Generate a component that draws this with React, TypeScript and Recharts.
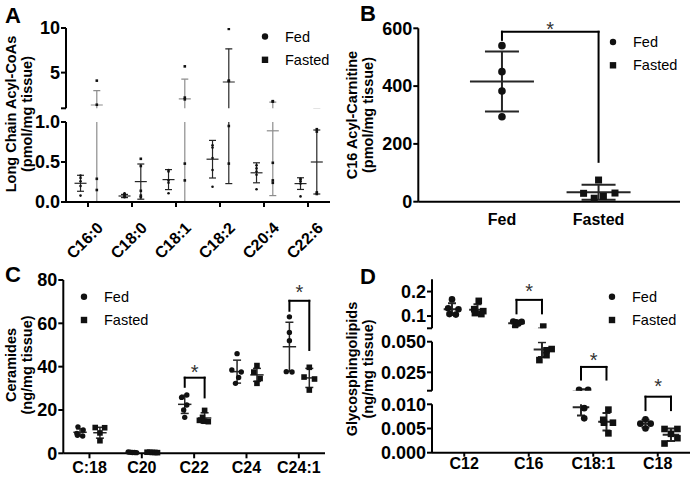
import React from 'react'
import { ScatterChart, Scatter, XAxis, YAxis, ErrorBar, ReferenceLine, ReferenceDot } from 'recharts'

// ---- A: long chain acyl-CoAs (pmol/mg tissue) ----
const acylCats = ['C16:0', 'C18:0', 'C18:1', 'C18:2', 'C20:4', 'C22:6']
const acylFed = [
    [0.33, 0.3, 0.26, 0.2, 0.08],
    [0.11, 0.1, 0.08, 0.07, 0.06],
    [0.4, 0.38, 0.27, 0.24, 0.11],
    [0.71, 0.68, 0.55, 0.4, 0.19],
    [0.46, 0.42, 0.38, 0.34, 0.16],
    [0.29, 0.28, 0.26, 0.23, 0.07],
]
const acylFasted = [
    [4.1, 1.4, 0.29, 0.15],
    [0.54, 0.45, 0.14, 0.08, 0.06],
    [5.7, 2.2, 2.0, 0.48, 0.27],
    [9.9, 4.1, 4.05, 0.95, 0.48],
    [1.8, 1.75, 0.49, 0.27, 0.24],
    [0.91, 0.88, 0.12, 0.1],
]
const acylFedMean = [0.234, 0.075, 0.28, 0.535, 0.365, 0.23]
const acylFedSD = [0.1, 0.02, 0.125, 0.235, 0.125, 0.073]
const acylFastedMean = [1.37, 0.255, 2.05, 3.95, 0.89, 0.5]
const acylFastedSD = [1.61, 0.22, 2.21, 3.72, 0.81, 0.4]

// ---- B: C16 acyl-carnitine (pmol/mg tissue) ----
const carnCats = ['Fed', 'Fasted']
const carnFed = [540, 450, 383, 294]
const carnFasted = [75, 30, 29, 18, 12]
const carnFastedJitter = [0, 0.17, -0.155, 0.05, -0.045]
const carnMean = [416, 32.8]
const carnSD = [104, 26]

// ---- C: ceramides (ng/mg tissue) ----
const cerCats = ['C:18', 'C20', 'C22', 'C24', 'C24:1']
const cerFed = [
    [12.2, 10.8, 9.2, 8.3, 8.0],
    [0.6, 0.5, 0.4, 0.4, 0.3],
    [26.9, 25.8, 22.3, 20.0, 16.6],
    [46, 38.5, 37.5, 35, 32.3],
    [63, 55.8, 52, 37.7, 37.5],
]
const cerFasted = [
    [11.9, 11.8, 9.4, 5.8],
    [0.5, 0.5, 0.4, 0.4, 0.3],
    [19.8, 16.6, 15.2, 14.8, 14.6],
    [40.5, 37.5, 34.5, 32.3],
    [39.7, 35.2, 34.3, 29.2],
]
const cerFedJitter = [
    [-0.04, 0.06, -0.06, -0.05, 0.05],
    [-0.08, -0.04, 0, 0.04, 0.08],
    [0.04, -0.06, 0.04, -0.02, 0],
    [0, -0.1, 0.08, 0.03, -0.03],
    [0, 0, 0, -0.06, 0.05],
]
const cerFastedJitter = [
    [-0.09, 0.09, 0, 0],
    [-0.1, -0.05, 0, 0.05, 0.1],
    [0, -0.04, -0.1, 0, 0.07],
    [0, -0.06, 0.06, 0],
    [0, -0.1, 0.1, 0],
]
const cerFedMean = [9.7, 0.45, 22.6, 37.7, 49.2]
const cerFedSD = [1.6, 0.1, 4.2, 5.3, 11.3]
const cerFastedMean = [9.5, 0.42, 16.3, 36.2, 34.8]
const cerFastedSD = [2.5, 0.08, 2.4, 3.0, 4.4]
const cerSig = [
    { cat: 3, top: 34.9, left: 30.7, right: 25.8, star: 39.2 },
    { cat: 5, top: 70.4, left: 65.8, right: 47.7, star: 76.2 },
]

// ---- D: glycosphingolipids (ng/mg tissue) ----
const gslCats = ['C12', 'C16', 'C18:1', 'C18']
const gslFed = [
    [0.168, 0.132, 0.128, 0.108, 0.106],
    [0.078, 0.077, 0.075, 0.07, 0.056],
    [0.0107, 0.0107, 0.0092, 0.0071],
    [0.0069, 0.006, 0.006, 0.005],
]
const gslFasted = [
    [0.162, 0.128, 0.12, 0.112, 0.108],
    [0.057, 0.044, 0.043, 0.039, 0.035],
    [0.0089, 0.0068, 0.0062, 0.0062, 0.004],
    [0.0049, 0.0049, 0.0039, 0.003, 0.0019],
]
const gslFedJitter = [
    [0, -0.06, 0.1, -0.04, 0.06],
    [-0.05, 0.08, 0, 0.03, -0.02],
    [-0.03, 0.11, 0.05, 0.05],
    [0, -0.08, 0.08, 0],
]
const gslFastedJitter = [
    [0.02, -0.05, 0.09, -0.04, 0.06],
    [0.02, 0.15, 0.07, 0.07, -0.04],
    [0.03, -0.05, 0.1, -0.04, 0.03],
    [-0.1, 0.1, 0, 0.1, -0.1],
]
const gslFedMean = [0.128, 0.071, 0.0094, 0.006]
const gslFedSD = [0.024, 0.009, 0.0017, 0.0008]
const gslFastedMean = [0.126, 0.0436, 0.0064, 0.0037]
const gslFastedSD = [0.022, 0.006, 0.0018, 0.0013]
const gslSig = [
    { cat: 2, seg: 'top', top: 0.166, left: 0.111, right: 0.111, star: 0.22 },
    { cat: 3, seg: 'mid', top: 0.0294, left: 0.0191, right: 0.0191, star: 0.0385 },
    { cat: 4, seg: 'low', top: 0.01157, left: 0.0088, right: 0.0088, star: 0.0147 },
]

const FONT = '"Liberation Sans", Arial, Helvetica, sans-serif'
const INK = '#111'

type Pt = { x: number; y: number }
type Summary = { x: number; y: number; sd: number; tone: string }
type Look = { r: number; sq: number; mean: number; cap: number; sw: number }

const spread = (groups: number[][], offset: number, jitter?: number[][]): Pt[] =>
    groups.flatMap((vals, i) => vals.map((v, j) => ({ x: i + 1 + offset + (jitter?.[i]?.[j] ?? 0), y: v })))

const summarize = (means: number[], sds: number[], offset: number, tone: (i: number) => string): Summary[] =>
    means.map((m, i) => ({ x: i + 1 + offset, y: m, sd: sds[i], tone: tone(i) }))

const circle = (r: number) => (p: any) => <circle cx={p.cx} cy={p.cy} r={r} fill={INK} />
const square = (s: number) => (p: any) => (
    <rect x={p.cx - s / 2} y={p.cy - s / 2} width={s} height={s} fill={INK} />
)
const meanBar = (half: number, stroke: string, sw: number) => (p: any) => (
    <line x1={p.cx - half} x2={p.cx + half} y1={p.cy} y2={p.cy} stroke={stroke} strokeWidth={sw} />
)
const starShape = (p: any) => (
    <text x={p.cx} y={p.cy} dy={11} textAnchor="middle" fontSize={20} fill="#333">*</text>
)

const slantTick = (labels: string[], ticks: number[]) => (props: any) => {
    const { x, y, payload } = props
    const tx = x + 16
    const ty = y + 19
    return (
        <text x={tx} y={ty} transform={`rotate(-45 ${tx} ${ty})`} textAnchor="end"
            fontSize={16} fontWeight={700} fill="#000">
            {labels[ticks.indexOf(payload.value)]}
        </text>
    )
}

function bracket(key: string, x1: number, x2: number, top: number, left: number, right: number, star: number) {
    const line = { stroke: '#000', strokeWidth: 2, ifOverflow: 'visible' as const, yAxisId: 'main', strokeLinecap: 'square' as const }
    return [
        <ReferenceLine key={key + 'l'} {...line} segment={[{ x: x1, y: left }, { x: x1, y: top }]} />,
        <ReferenceLine key={key + 't'} {...line} segment={[{ x: x1, y: top }, { x: x2, y: top }]} />,
        <ReferenceLine key={key + 'r'} {...line} segment={[{ x: x2, y: top }, { x: x2, y: right }]} />,
        <ReferenceDot key={key + 's'} yAxisId="main" x={(x1 + x2) / 2} y={star} r={0}
            ifOverflow="visible" shape={starShape} />,
    ]
}

type SegProps = {
    box: { left: number; top: number; width: number; height: number }
    margin: { top: number; right: number; bottom: number; left: number }
    yWidth: number
    yDomain: [number, number]
    yTicks: number[]
    yLabels: string[]
    xDomain: [number, number]
    xTicks: number[]
    xLabels: string[]
    xHeight?: number
    xTickLine?: boolean
    xTickSize?: number
    xTickMargin?: number
    xTick?: any
    broken: boolean
    fed: Pt[]
    fasted: Pt[]
    summary: Summary[]
    look: Look
    notes?: React.ReactNode[]
}

const summaryScatters = (summary: Summary[], look: Look, yAxisId: string) =>
    summary.map((s, i) => (
        <Scatter key={'s' + i} yAxisId={yAxisId} data={[s]} isAnimationActive={false}
            shape={meanBar(look.mean, s.tone, look.sw)}>
            <ErrorBar dataKey="sd" direction="y" width={look.cap} stroke={s.tone}
                strokeWidth={look.sw} isAnimationActive={false} />
        </Scatter>
    ))

function segment(p: SegProps, key: string) {
    const [lo, hi] = p.yDomain
    const inside = (d: Pt) => !p.broken || (d.y >= lo && d.y <= hi)
    const fmtY = (v: number) => p.yLabels[p.yTicks.indexOf(v)] ?? ''
    const fmtX = (v: number) => p.xLabels[p.xTicks.indexOf(v)] ?? ''
    const axisStroke = { stroke: '#000', strokeWidth: 2 }
    const xh = p.xHeight ?? 0
    const chart = (
        <div key={key} style={{ position: 'absolute', left: p.box.left, top: p.box.top }}>
            <ScatterChart width={p.box.width} height={p.box.height} margin={p.margin}>
                <XAxis
                    type="number"
                    dataKey="x"
                    domain={p.xDomain}
                    ticks={p.xTicks}
                    interval={0}
                    tickFormatter={fmtX}
                    hide={p.xHeight === undefined}
                    height={xh}
                    axisLine={axisStroke}
                    tickLine={p.xTickLine ? axisStroke : false}
                    tickSize={p.xTickSize ?? 5}
                    tickMargin={p.xTickMargin ?? 3}
                    tick={p.xTick ?? { fontSize: 16, fontWeight: 700, fill: '#000' }}
                />
                <YAxis
                    yAxisId="main"
                    type="number"
                    dataKey="y"
                    domain={p.yDomain}
                    allowDataOverflow={p.broken}
                    ticks={p.yTicks}
                    interval={0}
                    tickFormatter={fmtY}
                    width={p.yWidth}
                    axisLine={axisStroke}
                    tickLine={axisStroke}
                    tickSize={5}
                    tickMargin={1}
                    tick={{ fontSize: 18, fontWeight: 700, fill: '#000' }}
                />
                {!p.broken && summaryScatters(p.summary, p.look, 'main')}
                <Scatter yAxisId="main" data={p.fed.filter(inside)} shape={circle(p.look.r)} isAnimationActive={false} />
                <Scatter yAxisId="main" data={p.fasted.filter(inside)} shape={square(p.look.sq)} isAnimationActive={false} />
                {p.notes}
            </ScatterChart>
        </div>
    )
    if (!p.broken) return chart
    // the broken-axis pieces: mean/SD bars drawn in their own layer, cut to the plot band
    const below = p.margin.bottom + xh
    const band = (
        <div key={key + '-bars'} style={{
            position: 'absolute', left: p.box.left, top: p.box.top,
            clipPath: `inset(${p.margin.top}px 0px ${below}px 0px)`,
        }}>
            <ScatterChart width={p.box.width} height={p.box.height}
                margin={{ top: p.margin.top, right: p.margin.right, bottom: below, left: p.margin.left + p.yWidth }}>
                <XAxis type="number" dataKey="x" domain={p.xDomain} hide />
                <YAxis yAxisId="bars" type="number" dataKey="y" domain={p.yDomain} allowDataOverflow hide />
                {summaryScatters(p.summary, p.look, 'bars')}
            </ScatterChart>
        </div>
    )
    return [band, chart]
}

const DARK = '#262626'
const GREY = '#8c8c8c'
const greyAcyl = ['C16:0', 'C18:1', 'C20:4']

function Legend({ x, y }: { x: number; y: number }) {
    return (
        <g fontSize={14.5} fill="#000">
            <circle cx={x} cy={y} r={3.2} fill={INK} />
            <text x={x + 20} y={y + 5}>Fed</text>
            <rect x={x - 3.2} y={y + 23.3 - 3.2} width={6.4} height={6.4} fill={INK} />
            <text x={x + 20} y={y + 28.3}>Fasted</text>
        </g>
    )
}

function YTitle({ x, y, lines }: { x: number; y: number; lines: string[] }) {
    return (
        <g fontSize={14.5} fontWeight={700} fill="#000">
            {lines.map((t, i) => (
                <text key={i} x={x + i * 15.5} y={y} transform={`rotate(-90 ${x + i * 15.5} ${y})`} textAnchor="middle">{t}</text>
            ))}
        </g>
    )
}

export default function App() {
    // A
    const aTicks = acylCats.map((_, i) => i + 1)
    const aSumm = [
        ...summarize(acylFedMean, acylFedSD, -0.17, () => DARK),
        ...summarize(acylFastedMean, acylFastedSD, 0.2, (i) => (greyAcyl.includes(acylCats[i]) ? GREY : DARK)),
    ]
    const aCommon = {
        box: { left: 0, top: 0, width: 345, height: 262 },
        yWidth: 66,
        xDomain: [0.5, 6.5] as [number, number],
        xTicks: aTicks,
        xLabels: acylCats,
        broken: true,
        fed: spread(acylFed, -0.17),
        fasted: spread(acylFasted, 0.2),
        summary: aSumm,
        look: { r: 1.3, sq: 2.6, mean: 6, cap: 3.5, sw: 1.2 },
    }

    // B
    const bTicks = [1, 2]
    const bFed = spread([carnFed], 0)
    const bFasted = spread([[], carnFasted], 0, [[], carnFastedJitter])
    const bSumm = summarize(carnMean, carnSD, 0, () => DARK)

    // C
    const cTicks = cerCats.map((_, i) => i + 1)
    const cSumm = [
        ...summarize(cerFedMean, cerFedSD, -0.18, () => DARK),
        ...summarize(cerFastedMean, cerFastedSD, 0.2, () => DARK),
    ]
    const cNotes = cerSig.flatMap((s, i) => bracket('c' + i, s.cat - 0.18, s.cat + 0.2, s.top, s.left, s.right, s.star))

    // D
    const dTicks = gslCats.map((_, i) => i + 1)
    const dSumm = [
        ...summarize(gslFedMean, gslFedSD, -0.19, () => DARK),
        ...summarize(gslFastedMean, gslFastedSD, 0.205, () => DARK),
    ]
    const dNotes = (seg: string) =>
        gslSig.filter((s) => s.seg === seg)
            .flatMap((s, i) => bracket('d' + seg + i, s.cat - 0.19, s.cat + 0.205, s.top, s.left, s.right, s.star))
    const dCommon = {
        box: { left: 345, top: 240, width: 352, height: 238 },
        yWidth: 87,
        xDomain: [0.5, 4.5] as [number, number],
        xTicks: dTicks,
        xLabels: gslCats,
        broken: true,
        fed: spread(gslFed, -0.19, gslFedJitter),
        fasted: spread(gslFasted, 0.205, gslFastedJitter),
        summary: dSumm,
        look: { r: 3.3, sq: 6.6, mean: 8.3, cap: 4, sw: 2 },
    }

    return (
        <div style={{ position: 'absolute', left: 0, top: 0, width: 697, height: 478, background: '#fff', fontFamily: FONT, overflow: 'hidden' }}>
            {segment({
                ...aCommon,
                margin: { top: 28, right: 15, bottom: 262 - 108.3, left: 0 },
                yDomain: [1, 10], yTicks: [1, 5, 10], yLabels: ['', '5', '10'],
            }, 'a-up')}
            {segment({
                ...aCommon,
                margin: { top: 122, right: 15, bottom: 0, left: 0 },
                yDomain: [0, 1], yTicks: [0, 0.5, 1], yLabels: ['0.0', '0.5', '1.0'],
                xHeight: 60, xTickLine: true, xTick: slantTick(acylCats, aTicks),
            }, 'a-low')}

            {segment({
                box: { left: 345, top: 0, width: 352, height: 240 },
                margin: { top: 28.3, right: 17, bottom: 0, left: 0 },
                yWidth: 73.3,
                yDomain: [0, 600], yTicks: [0, 200, 400, 600], yLabels: ['0', '200', '400', '600'],
                xDomain: [0.134, 2.843], xTicks: bTicks, xLabels: carnCats,
                xHeight: 38.3, xTickLine: false, xTickSize: 6, xTickMargin: 6,
                broken: false, fed: bFed, fasted: bFasted, summary: bSumm,
                look: { r: 3.8, sq: 7, mean: 32, cap: 17, sw: 2 },
                notes: bracket('b', 1, 2, 588, 560, 138, 612),
            }, 'b')}

            {segment({
                box: { left: 0, top: 240, width: 345, height: 238 },
                margin: { top: 40, right: 20, bottom: 0, left: 0 },
                yWidth: 63.3,
                yDomain: [0, 80], yTicks: [0, 20, 40, 60, 80], yLabels: ['0', '20', '40', '60', '80'],
                xDomain: [0.5, 5.5], xTicks: cTicks, xLabels: cerCats,
                xHeight: 24.7, xTickLine: true, xTickSize: 5, xTickMargin: 3,
                broken: false,
                fed: spread(cerFed, -0.18, cerFedJitter),
                fasted: spread(cerFasted, 0.2, cerFastedJitter),
                summary: cSumm,
                look: { r: 2.7, sq: 5.6, mean: 6.7, cap: 4, sw: 1.5 },
                notes: cNotes,
            }, 'c')}

            {segment({
                ...dCommon,
                margin: { top: 39.3, right: 7, bottom: 149.7, left: 0 },
                yDomain: [0.05, 0.25], yTicks: [0.05, 0.1, 0.2], yLabels: ['', '0.1', '0.2'],
                notes: dNotes('top'),
            }, 'd-top')}
            {segment({
                ...dCommon,
                margin: { top: 101.7, right: 7, bottom: 87.3, left: 0 },
                yDomain: [0.01, 0.05], yTicks: [0.01, 0.025, 0.05], yLabels: ['', '0.025', '0.050'],
                notes: dNotes('mid'),
            }, 'd-mid')}
            {segment({
                ...dCommon,
                margin: { top: 164.3, right: 7, bottom: 0, left: 0 },
                yDomain: [0, 0.01], yTicks: [0, 0.005, 0.01], yLabels: ['0.000', '0.005', '0.010'],
                xHeight: 25.3, xTickLine: true, xTickSize: 4, xTickMargin: 1,
                notes: dNotes('low'),
            }, 'd-low')}

            <svg width={697} height={478} style={{ position: 'absolute', left: 0, top: 0, pointerEvents: 'none' }}>
                <g fontSize={22} fontWeight={700} fill="#000">
                    <text x={5} y={23}>A</text>
                    <text x={360} y={21}>B</text>
                    <text x={5} y={282}>C</text>
                    <text x={360} y={284}>D</text>
                </g>
                <YTitle x={16} y={114} lines={['Long Chain Acyl-CoAs', '(pmol/mg tissue)']} />
                <YTitle x={357} y={115} lines={['C16 Acyl-Carnitine', '(pmol/mg tissue)']} />
                <YTitle x={16} y={365} lines={['Ceramides', '(ng/mg tissue)']} />
                <YTitle x={357} y={369} lines={['Glycosphingolipids', '(ng/mg tissue)']} />
                <Legend x={265} y={36.5} />
                <Legend x={613} y={42} />
                <Legend x={84} y={296.7} />
                <Legend x={612} y={296.7} />
            </svg>
        </div>
    )
}
